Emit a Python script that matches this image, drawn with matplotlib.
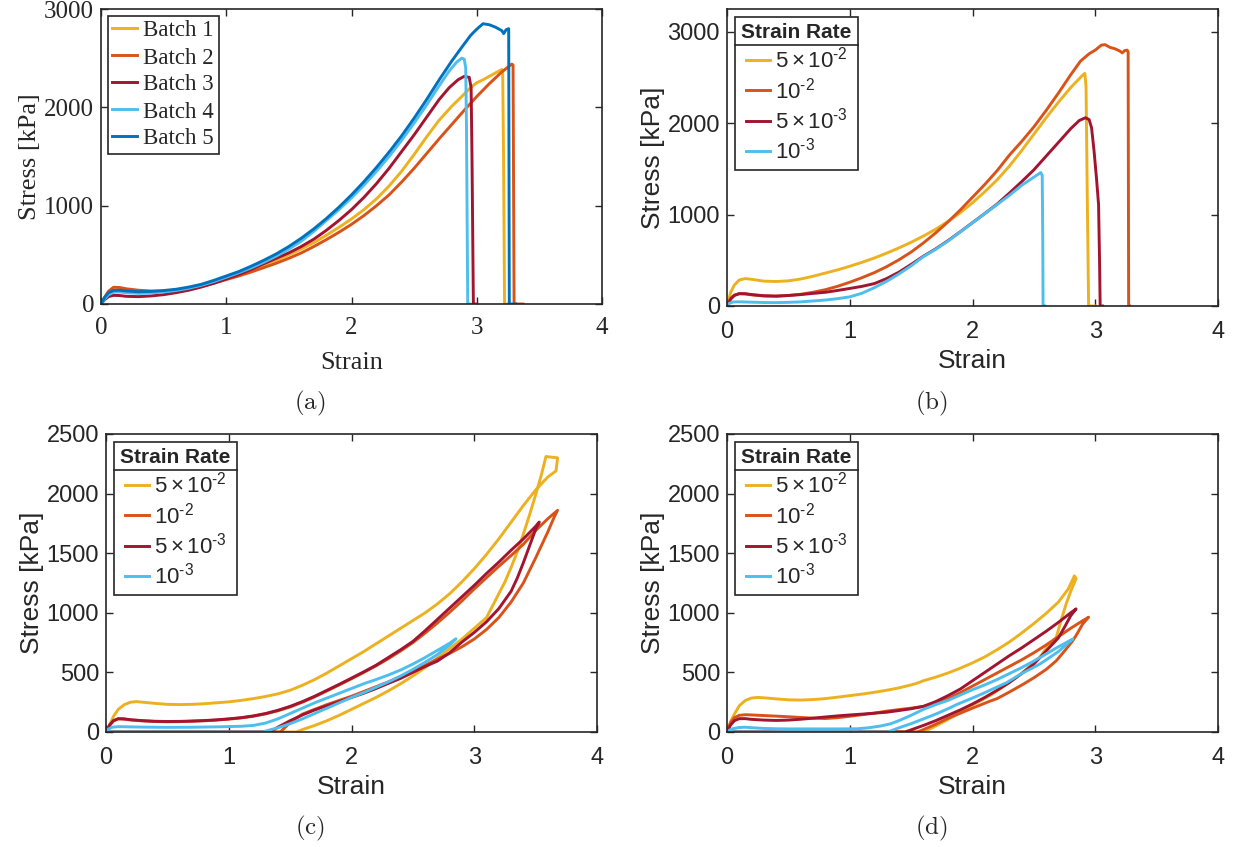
import numpy as np
import matplotlib
matplotlib.use("Agg")
import matplotlib.pyplot as plt
from matplotlib.lines import Line2D

plt.rcParams['mathtext.fontset'] = 'custom'
plt.rcParams['mathtext.rm'] = 'Liberation Sans'
plt.rcParams['mathtext.it'] = 'Liberation Sans:italic'
plt.rcParams['mathtext.bf'] = 'Liberation Sans:bold'

# ---------------- colours ----------------
c_yel = '#EDB120'
c_ora = '#D95319'
c_red = '#A2142F'
c_lbl = '#4DBEEE'
c_blu = '#0072BD'
ink = '#262626'

# ---------------- (a) batches ----------------
batch_labels = ['Batch 1', 'Batch 2', 'Batch 3', 'Batch 4', 'Batch 5']

a_b1_strain = [0, 0.03, 0.06, 0.1, 0.15, 0.2, 0.3, 0.4, 0.5, 0.6, 0.7, 0.8, 0.9, 1.0, 1.1, 1.2, 1.3, 1.4, 1.5, 1.6, 1.7, 1.8, 1.9, 2.0,
               2.1, 2.2, 2.3, 2.4, 2.5, 2.6, 2.7, 2.8, 2.88, 2.95, 3.0, 3.05, 3.1, 3.15, 3.2, 3.207, 3.214, 3.222, 3.255]
a_b1_stress = [0, 60, 110, 140, 140, 130, 122, 122, 128, 140, 160, 190, 225, 265, 305, 348, 395, 445, 500, 560, 625, 700, 780, 865,
               960, 1070, 1200, 1350, 1520, 1700, 1870, 2010, 2110, 2200, 2250, 2280, 2315, 2350, 2385, 2370, 1500, 0, 0]

a_b2_strain = [0, 0.03, 0.06, 0.1, 0.15, 0.2, 0.3, 0.4, 0.5, 0.6, 0.7, 0.8, 0.9, 1.0, 1.1, 1.2, 1.3, 1.4, 1.5, 1.6, 1.7, 1.8, 1.9, 2.0,
               2.1, 2.2, 2.3, 2.4, 2.5, 2.6, 2.7, 2.8, 2.9, 3.0, 3.1, 3.2, 3.28, 3.29, 3.293, 3.298, 3.37]
a_b2_stress = [0, 70, 130, 170, 168, 155, 140, 132, 130, 138, 155, 180, 212, 248, 285, 326, 370, 415, 465, 520, 585, 655, 730, 810,
               900, 1000, 1110, 1240, 1380, 1530, 1680, 1825, 1970, 2110, 2240, 2360, 2440, 2430, 1500, 0, 0]

a_b3_strain = [0, 0.03, 0.06, 0.1, 0.15, 0.2, 0.3, 0.4, 0.5, 0.6, 0.7, 0.8, 0.9, 1.0, 1.1, 1.2, 1.3, 1.4, 1.5, 1.6, 1.7, 1.8, 1.9, 2.0,
               2.1, 2.2, 2.3, 2.4, 2.5, 2.6, 2.7, 2.78, 2.85, 2.9, 2.94, 2.955, 2.962, 2.973, 3.0]
a_b3_stress = [0, 45, 75, 88, 86, 78, 75, 82, 95, 115, 140, 172, 210, 255, 300, 352, 410, 465, 520, 585, 660, 750, 850, 960,
               1085, 1225, 1380, 1550, 1720, 1900, 2080, 2200, 2280, 2315, 2305, 2200, 1500, 0, 0]

a_b4_strain = [0, 0.03, 0.06, 0.1, 0.15, 0.2, 0.3, 0.4, 0.5, 0.6, 0.7, 0.8, 0.9, 1.0, 1.1, 1.2, 1.3, 1.4, 1.5, 1.6, 1.7, 1.8, 1.9, 2.0,
               2.1, 2.2, 2.3, 2.4, 2.5, 2.6, 2.7, 2.78, 2.84, 2.88, 2.9, 2.912, 2.918, 2.928, 2.945]
a_b4_stress = [0, 55, 95, 120, 122, 115, 108, 112, 122, 138, 160, 190, 228, 272, 318, 368, 425, 488, 558, 640, 740, 850, 960, 1080,
               1210, 1350, 1500, 1665, 1840, 2025, 2220, 2370, 2460, 2500, 2490, 2400, 1800, 0, 0]

a_b5_strain = [0, 0.03, 0.06, 0.1, 0.15, 0.2, 0.3, 0.4, 0.5, 0.6, 0.7, 0.8, 0.9, 1.0, 1.1, 1.2, 1.3, 1.4, 1.5, 1.6, 1.7, 1.8, 1.9, 2.0,
               2.1, 2.2, 2.3, 2.4, 2.5, 2.6, 2.7, 2.8, 2.88, 2.95, 3.0, 3.05, 3.1, 3.15, 3.2, 3.215, 3.235, 3.255, 3.26, 3.31]
a_b5_stress = [0, 70, 115, 138, 140, 133, 125, 128, 137, 150, 172, 200, 240, 285, 330, 385, 445, 510, 585, 670, 765, 870, 985, 1110,
               1245, 1390, 1545, 1710, 1890, 2080, 2280, 2470, 2610, 2730, 2795, 2850, 2840, 2815, 2780, 2750, 2790, 2800, 0, 0]

# ---------------- (b) strain rates, to failure ----------------
rate_labels = [r'$5\times10^{\text{-2}}$', r'$10^{\text{-2}}$', r'$5\times10^{\text{-3}}$', r'$10^{\text{-3}}$']

b_r1_strain = [0, 0.03, 0.06, 0.1, 0.15, 0.2, 0.3, 0.4, 0.5, 0.6, 0.7, 0.8, 0.9, 1.0, 1.1, 1.2, 1.3, 1.4, 1.5, 1.6, 1.7, 1.8, 1.9, 2.0,
               2.1, 2.2, 2.3, 2.4, 2.5, 2.6, 2.7, 2.8, 2.9, 2.915, 2.925, 2.935, 2.946, 3.0]
b_r1_stress = [0, 150, 230, 285, 300, 292, 272, 268, 275, 295, 325, 360, 395, 435, 478, 525, 578, 635, 697, 765, 840, 925, 1020, 1130,
               1250, 1380, 1530, 1700, 1880, 2060, 2230, 2390, 2530, 2545, 2400, 1200, 0, 0]

b_r2_strain = [0, 0.03, 0.06, 0.1, 0.15, 0.2, 0.3, 0.4, 0.5, 0.6, 0.7, 0.8, 0.9, 1.0, 1.1, 1.2, 1.3, 1.4, 1.5, 1.6, 1.7, 1.8, 1.9, 2.0,
               2.1, 2.2, 2.3, 2.4, 2.5, 2.6, 2.7, 2.8, 2.88, 2.95, 3.0, 3.05, 3.08, 3.12, 3.16, 3.2, 3.22, 3.24, 3.26, 3.268, 3.272, 3.28]
b_r2_stress = [0, 85, 120, 135, 132, 122, 110, 108, 115, 128, 150, 178, 215, 260, 310, 365, 430, 505, 590, 690, 800, 920, 1050, 1190,
               1330, 1480, 1650, 1800, 1960, 2140, 2330, 2530, 2680, 2760, 2800, 2855, 2860, 2830, 2815, 2790, 2770, 2795, 2800, 2780, 0, 0]

b_r3_strain = [0, 0.03, 0.06, 0.1, 0.15, 0.2, 0.3, 0.4, 0.5, 0.6, 0.7, 0.8, 0.9, 1.0, 1.1, 1.2, 1.3, 1.4, 1.5, 1.6, 1.7, 1.8, 1.9, 2.0,
               2.1, 2.2, 2.3, 2.4, 2.5, 2.6, 2.7, 2.8, 2.87, 2.92, 2.95, 2.97, 2.99, 3.01, 3.027, 3.035, 3.04, 3.06]
b_r3_stress = [0, 75, 115, 135, 134, 125, 112, 108, 115, 125, 138, 150, 170, 192, 215, 245, 300, 370, 455, 545, 625, 715, 812, 912,
               1012, 1115, 1235, 1360, 1490, 1640, 1790, 1940, 2030, 2060, 2040, 1950, 1700, 1400, 1110, 500, 0, 0]

b_r4_strain = [0, 0.02, 0.05, 0.1, 0.2, 0.3, 0.4, 0.5, 0.6, 0.7, 0.8, 0.9, 1.0, 1.1, 1.2, 1.3, 1.4, 1.5, 1.6, 1.7, 1.8, 1.9, 2.0,
               2.1, 2.2, 2.3, 2.4, 2.5, 2.556, 2.568, 2.572, 2.575, 2.59]
b_r4_stress = [0, 30, 44, 46, 42, 38, 37, 40, 45, 55, 65, 80, 100, 140, 200, 270, 350, 440, 540, 620, 710, 810, 910,
               1010, 1110, 1210, 1320, 1410, 1460, 1430, 800, 0, 0]

# ---------------- (c) loading / unloading cycles ----------------
c_r1_up_strain = [0, 0.03, 0.06, 0.1, 0.15, 0.2, 0.25, 0.3, 0.4, 0.5, 0.6, 0.7, 0.8, 0.9, 1.0, 1.1, 1.2, 1.3, 1.4, 1.5, 1.6, 1.7, 1.8, 1.9,
                  2.0, 2.1, 2.2, 2.3, 2.4, 2.5, 2.6, 2.7, 2.8, 2.9, 3.0, 3.1, 3.2, 3.3, 3.4, 3.5, 3.6, 3.666, 3.679, 3.584]
c_r1_up_stress = [0, 60, 130, 190, 230, 250, 255, 250, 240, 232, 230, 232, 237, 245, 253, 265, 280, 298, 320, 350, 392, 440, 495, 555,
                  615, 675, 740, 805, 870, 935, 1000, 1075, 1160, 1260, 1370, 1490, 1620, 1760, 1900, 2030, 2140, 2190, 2300, 2311]
c_r1_down_strain = [3.55, 3.5, 3.45, 3.4, 3.35, 3.3, 3.25, 3.2, 3.15, 3.1, 3.0, 2.9, 2.8, 2.7, 2.6, 2.5, 2.4, 2.3, 2.2, 2.1, 2.0,
                    1.9, 1.8, 1.7, 1.6, 1.55, 0]
c_r1_down_stress = [2170, 1990, 1820, 1660, 1510, 1380, 1260, 1160, 1060, 960, 870, 780, 700, 620, 540, 470, 405, 345, 290, 240, 190,
                    140, 95, 55, 20, 0, 0]

c_r2_up_strain = [0, 0.03, 0.06, 0.1, 0.15, 0.2, 0.3, 0.4, 0.5, 0.6, 0.7, 0.8, 0.9, 1.0, 1.1, 1.2, 1.3, 1.4, 1.5, 1.6, 1.7, 1.8, 1.9,
                  2.0, 2.1, 2.2, 2.3, 2.4, 2.5, 2.6, 2.7, 2.8, 2.9, 3.0, 3.1, 3.2, 3.3, 3.4, 3.5, 3.6, 3.679]
c_r2_up_stress = [0, 55, 92, 110, 108, 101, 93, 88, 86, 87, 90, 94, 100, 108, 118, 132, 152, 178, 210, 250, 295, 345, 395,
                  447, 500, 555, 615, 680, 750, 830, 915, 1005, 1100, 1200, 1295, 1390, 1480, 1575, 1690, 1790, 1860]
c_r2_down_strain = [3.65, 3.6, 3.5, 3.4, 3.3, 3.2, 3.1, 3.0, 2.9, 2.8, 2.7, 2.6, 2.5, 2.4, 2.3, 2.2, 2.1, 2.0, 1.9, 1.8, 1.7,
                    1.6, 1.5, 1.42, 0]
c_r2_down_stress = [1800, 1680, 1460, 1250, 1090, 960, 860, 780, 715, 660, 612, 560, 510, 465, 420, 380, 340, 300, 265, 230, 190,
                    150, 80, 0, 0]

c_r3_up_strain = [0, 0.03, 0.06, 0.1, 0.15, 0.2, 0.3, 0.4, 0.5, 0.6, 0.7, 0.8, 0.9, 1.0, 1.1, 1.2, 1.3, 1.4, 1.5, 1.6, 1.7, 1.8, 1.9,
                  2.0, 2.1, 2.2, 2.3, 2.4, 2.5, 2.6, 2.7, 2.8, 2.9, 3.0, 3.1, 3.2, 3.3, 3.4, 3.5, 3.53]
c_r3_up_stress = [0, 60, 95, 112, 110, 103, 95, 90, 88, 89, 92, 96, 102, 110, 120, 135, 155, 182, 215, 255, 300, 350, 400,
                  452, 505, 560, 625, 690, 760, 850, 945, 1040, 1135, 1230, 1330, 1425, 1525, 1620, 1725, 1761]
c_r3_down_strain = [3.5, 3.45, 3.4, 3.35, 3.3, 3.2, 3.1, 3.0, 2.9, 2.8, 2.7, 2.6, 2.5, 2.4, 2.3, 2.2, 2.1, 2.0, 1.9, 1.8, 1.7,
                    1.6, 1.5, 1.4, 1.335, 0]
c_r3_down_stress = [1700, 1560, 1420, 1290, 1180, 1035, 925, 835, 755, 665, 595, 550, 500, 450, 408, 365, 325, 290, 255, 220, 185,
                    143, 95, 40, 0, 0]

c_r4_up_strain = [0, 0.02, 0.05, 0.1, 0.2, 0.3, 0.5, 0.7, 0.9, 1.1, 1.2, 1.3, 1.4, 1.5, 1.6, 1.7, 1.8, 1.9, 2.0, 2.1, 2.2, 2.3,
                  2.4, 2.5, 2.6, 2.7, 2.8, 2.851]
c_r4_up_stress = [0, 25, 40, 45, 43, 41, 39, 40, 43, 48, 55, 75, 110, 155, 200, 245, 285, 325, 365, 405, 440, 478,
                  520, 570, 625, 685, 745, 782]
c_r4_down_strain = [2.8, 2.7, 2.6, 2.5, 2.4, 2.3, 2.2, 2.1, 2.0, 1.9, 1.8, 1.7, 1.6, 1.5, 1.4, 1.3, 1.28, 0]
c_r4_down_stress = [730, 650, 585, 525, 470, 420, 375, 330, 290, 245, 200, 155, 110, 70, 35, 8, 0, 0]

# ---------------- (d) loading / unloading cycles ----------------
d_r1_up_strain = [0, 0.03, 0.06, 0.1, 0.15, 0.2, 0.25, 0.3, 0.4, 0.5, 0.6, 0.7, 0.8, 0.9, 1.0, 1.1, 1.2, 1.3, 1.4, 1.5, 1.55, 1.6,
                  1.7, 1.8, 1.9, 2.0, 2.1, 2.2, 2.3, 2.4, 2.5, 2.6, 2.7, 2.78, 2.83, 2.844]
d_r1_up_stress = [0, 90, 150, 220, 265, 285, 290, 287, 278, 270, 268, 272, 280, 292, 305, 318, 333, 350, 370, 395, 410, 430,
                  460, 495, 535, 580, 630, 690, 755, 830, 910, 995, 1090, 1200, 1310, 1287]
d_r1_down_strain = [2.8, 2.763, 2.72, 2.682, 2.6, 2.547, 2.4, 2.278, 2.15, 2.0, 1.9, 1.8, 1.7, 1.6, 0]
d_r1_down_stress = [1180, 1075, 930, 794, 700, 625, 490, 400, 310, 225, 165, 105, 50, 0, 0]

d_r2_up_strain = [0, 0.03, 0.06, 0.1, 0.15, 0.2, 0.3, 0.4, 0.5, 0.6, 0.7, 0.8, 0.9, 1.0, 1.1, 1.2, 1.3, 1.4, 1.5, 1.6, 1.7, 1.8,
                  1.9, 2.0, 2.1, 2.2, 2.3, 2.4, 2.5, 2.6, 2.7, 2.8, 2.9, 2.946]
d_r2_up_stress = [0, 80, 120, 140, 145, 143, 138, 133, 128, 122, 116, 113, 120, 132, 145, 158, 175, 188, 200, 215, 245, 280,
                  330, 385, 440, 495, 550, 605, 665, 730, 800, 870, 935, 963]
d_r2_down_strain = [2.898, 2.85, 2.817, 2.75, 2.682, 2.6, 2.5, 2.412, 2.3, 2.2, 2.143, 2.0, 1.873, 1.8, 1.7, 1.6, 1.55, 0]
d_r2_down_stress = [907, 820, 766, 680, 597, 525, 455, 400, 335, 280, 259, 200, 146, 115, 65, 20, 0, 0]

d_r3_up_strain = [0, 0.03, 0.06, 0.1, 0.15, 0.2, 0.3, 0.4, 0.5, 0.6, 0.7, 0.8, 0.9, 1.0, 1.1, 1.2, 1.3, 1.4, 1.5, 1.6, 1.7, 1.8,
                  1.9, 2.0, 2.1, 2.2, 2.3, 2.4, 2.5, 2.6, 2.7, 2.8, 2.844]
d_r3_up_stress = [0, 60, 95, 112, 112, 106, 100, 97, 100, 107, 116, 126, 135, 143, 150, 158, 166, 180, 195, 215, 255, 305,
                  360, 430, 500, 570, 640, 705, 775, 845, 920, 1000, 1033]
d_r3_down_strain = [2.8, 2.75, 2.7, 2.6, 2.5, 2.4, 2.3, 2.2, 2.1, 2.0, 1.9, 1.8, 1.7, 1.6, 1.5, 1.45, 0]
d_r3_down_stress = [975, 880, 790, 680, 570, 490, 415, 350, 290, 235, 185, 140, 95, 55, 18, 0, 0]

d_r4_up_strain = [0, 0.02, 0.05, 0.1, 0.15, 0.2, 0.3, 0.4, 0.5, 0.7, 0.9, 1.059, 1.15, 1.25, 1.33, 1.4, 1.5, 1.6, 1.7, 1.8, 1.9,
                  2.0, 2.1, 2.2, 2.3, 2.4, 2.5, 2.6, 2.7, 2.817]
d_r4_up_stress = [0, 15, 28, 38, 40, 36, 30, 27, 26, 26, 26, 27, 35, 50, 68, 95, 140, 190, 230, 265, 310,
                  355, 395, 440, 490, 540, 595, 655, 715, 780]
d_r4_down_strain = [2.75, 2.7, 2.6, 2.547, 2.4, 2.278, 2.1, 2.0, 1.873, 1.8, 1.7, 1.6, 1.5, 1.4, 1.31, 0]
d_r4_down_stress = [720, 675, 605, 569, 490, 414, 330, 285, 231, 195, 150, 110, 70, 35, 0, 0]

rate_colors = [c_yel, c_ora, c_red, c_lbl]
batch_colors = [c_yel, c_ora, c_red, c_lbl, c_blu]

W, H = 1241, 847
fig = plt.figure(figsize=(W / 100, H / 100), dpi=100)


def box(l, r, t, b):
    return [l / W, 1 - b / H, (r - l) / W, (b - t) / H]


def style(ax, family, tsize, xpad):
    for s in ax.spines.values():
        s.set_color(ink)
        s.set_linewidth(1.2)
    ax.tick_params(direction='in', top=True, right=True, length=5, width=1.0,
                   color=ink, labelcolor=ink, labelsize=tsize, pad=5)
    ax.tick_params(axis='x', pad=xpad)
    for t in ax.get_xticklabels() + ax.get_yticklabels():
        t.set_family(family)


LW = 2.1

# (a)
ax_a = fig.add_axes(box(101, 602, 9, 304))
a_data = [(a_b1_strain, a_b1_stress), (a_b2_strain, a_b2_stress), (a_b3_strain, a_b3_stress),
          (a_b4_strain, a_b4_stress), (a_b5_strain, a_b5_stress)]
for (x, y), col, lab in zip(a_data, batch_colors, batch_labels):
    ax_a.plot(x, y, color=col, lw=LW, label=lab)
ax_a.set_xlim(0, 4)
ax_a.set_ylim(0, 3000)
ax_a.set_xticks([0, 1, 2, 3, 4])
ax_a.set_yticks([0, 1000, 2000, 3000])
style(ax_a, 'Liberation Serif', 18, 9)
ax_a.set_xlabel('Strain', family='Liberation Serif', fontsize=19, color=ink, labelpad=10)
ax_a.set_ylabel('Stress [kPa]', family='Liberation Serif', fontsize=19, color=ink, labelpad=2)
leg_a = ax_a.legend(loc='upper left', prop={'family': 'Liberation Serif', 'size': 16.5},
                    fancybox=False, edgecolor=ink, framealpha=1, borderpad=0.2,
                    labelspacing=0.26, handlelength=1.05, handletextpad=0.3,
                    borderaxespad=0.3)
leg_a.get_frame().set_linewidth(1.2)
for t in leg_a.get_texts():
    t.set_color(ink)

sans = 'Liberation Sans'


def rate_legend(ax):
    leg = ax.legend(loc='upper left', prop={'family': sans, 'size': 16},
                    title='Strain Rate', title_fontproperties={'family': sans, 'size': 15, 'weight': 'bold'},
                    fancybox=False, edgecolor=ink, framealpha=1, borderpad=0.3,
                    labelspacing=0.2, handlelength=1.1, handletextpad=0.2,
                    borderaxespad=0.35)
    leg.get_frame().set_linewidth(1.2)
    leg.get_title().set_color(ink)
    for t in leg.get_texts():
        t.set_color(ink)
    return leg


def sans_axes(ax, ytop, yticks):
    ax.set_xlim(0, 4)
    ax.set_ylim(0, ytop)
    ax.set_xticks([0, 1, 2, 3, 4])
    ax.set_yticks(yticks)
    style(ax, sans, 17, 11)
    ax.set_xlabel('Strain', family=sans, fontsize=19, color=ink, labelpad=4)
    ax.set_ylabel('Stress [kPa]', family=sans, fontsize=19, color=ink, labelpad=2)


# (b)
ax_b = fig.add_axes(box(727, 1218, 9, 306))
b_data = [(b_r1_strain, b_r1_stress), (b_r2_strain, b_r2_stress),
          (b_r3_strain, b_r3_stress), (b_r4_strain, b_r4_stress)]
for (x, y), col, lab in zip(b_data, rate_colors, rate_labels):
    ax_b.plot(x, y, color=col, lw=LW, label=lab)
sans_axes(ax_b, 3250, [0, 1000, 2000, 3000])
leg_b = rate_legend(ax_b)


def cycle_panel(ax, cycles):
    for (ux, uy, dx, dy), col, lab in zip(cycles, rate_colors, rate_labels):
        x = np.concatenate([ux, dx])
        y = np.concatenate([uy, dy])
        ax.plot(x, y, color=col, lw=LW, label=lab)
    sans_axes(ax, 2500, [0, 500, 1000, 1500, 2000, 2500])
    return rate_legend(ax)


# (c)
ax_c = fig.add_axes(box(106, 597, 434, 732))
leg_c = cycle_panel(ax_c, [
    (c_r1_up_strain, c_r1_up_stress, c_r1_down_strain, c_r1_down_stress),
    (c_r2_up_strain, c_r2_up_stress, c_r2_down_strain, c_r2_down_stress),
    (c_r3_up_strain, c_r3_up_stress, c_r3_down_strain, c_r3_down_stress),
    (c_r4_up_strain, c_r4_up_stress, c_r4_down_strain, c_r4_down_stress),
])

# (d)
ax_d = fig.add_axes(box(727, 1218, 434, 732))
leg_d = cycle_panel(ax_d, [
    (d_r1_up_strain, d_r1_up_stress, d_r1_down_strain, d_r1_down_stress),
    (d_r2_up_strain, d_r2_up_stress, d_r2_down_strain, d_r2_down_stress),
    (d_r3_up_strain, d_r3_up_stress, d_r3_down_strain, d_r3_down_stress),
    (d_r4_up_strain, d_r4_up_stress, d_r4_down_strain, d_r4_down_stress),
])

# sub-captions
for lab, (px, py) in zip(['(a)', '(b)', '(c)', '(d)'],
                         [(310, 403), (931, 403), (310, 828), (931, 828)]):
    fig.text(px / W, 1 - py / H, r'$\mathrm{' + lab + '}$', math_fontfamily='cm',
             fontsize=18, ha='center', va='center', color=ink)

# rule under the legend titles, like the boxed MATLAB legend title
fig.canvas.draw()
rend = fig.canvas.get_renderer()
inv = fig.transFigure.inverted()
for leg in [leg_b, leg_c, leg_d]:
    tb = leg.get_title().get_window_extent(rend)
    fb = leg.get_frame().get_window_extent(rend)
    y = tb.y0 - 3
    (x0, y0), (x1, y1) = inv.transform([(fb.x0, y), (fb.x1, y)])
    fig.add_artist(Line2D([x0, x1], [y0, y1], transform=fig.transFigure, color=ink, lw=1.2))

fig.savefig('out.png', dpi=100)
